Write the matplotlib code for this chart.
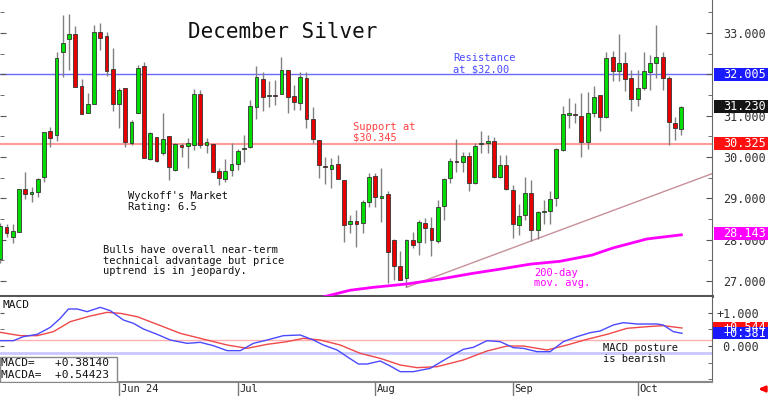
import matplotlib
matplotlib.use("Agg")
import matplotlib.pyplot as plt
import matplotlib.transforms as mtrans
from matplotlib.patches import Rectangle
from matplotlib.ticker import MultipleLocator, FixedLocator, FixedFormatter, FuncFormatter
import numpy as np

# daily OHLC, December silver, mid-May .. Oct 9 2024
opens = [27.53, 28.31, 28.06, 28.19, 29.23, 29.10, 29.15, 29.52, 30.63, 30.53,
         32.54, 32.85, 32.98, 31.72, 31.06, 31.28, 33.02, 32.93, 32.13, 31.28,
         31.67, 30.34, 31.06, 32.20, 29.95, 30.48, 30.10, 30.51, 29.69, 30.29,
         30.27, 30.29, 31.52, 30.29, 30.31, 29.66, 29.47, 29.69, 29.83, 30.19,
         30.24, 31.21, 31.89, 31.48, 31.50, 31.52, 32.10, 31.48, 31.31, 31.91,
         30.92, 30.41, 29.78, 29.71, 29.83, 29.44, 28.38, 28.45, 28.40, 28.91,
         29.54, 29.02, 29.10, 27.99, 27.36, 27.07, 27.99, 27.94, 28.40, 28.28,
         27.97, 28.81, 29.49, 29.89, 29.88, 30.02, 29.37, 30.31, 30.34, 30.39,
         29.52, 29.81, 29.20, 28.35, 28.60, 29.13, 28.23, 28.67, 28.69, 29.01,
         30.17, 31.03, 31.03, 30.99, 30.36, 31.06, 31.50, 30.97, 32.42, 32.08,
         32.27, 31.91, 31.40, 31.67, 32.06, 32.27, 32.42, 31.91, 30.82, 30.68]
highs = [28.40, 28.38, 28.38, 29.23, 29.64, 29.27, 29.49, 30.60, 30.73, 32.54,
         33.44, 33.46, 33.17, 31.89, 31.55, 33.19, 33.24, 33.02, 32.64, 31.67,
         31.67, 30.89, 32.23, 32.30, 30.60, 30.48, 31.06, 30.51, 30.34, 30.34,
         30.46, 31.65, 31.62, 30.46, 30.31, 29.73, 29.95, 30.34, 30.19, 30.53,
         31.38, 32.20, 32.06, 31.84, 31.86, 32.42, 32.10, 31.74, 32.06, 32.06,
         31.21, 30.41, 30.00, 29.98, 30.05, 29.44, 28.60, 28.72, 28.96, 29.61,
         29.61, 29.73, 29.18, 28.02, 27.73, 28.02, 28.19, 28.48, 28.52, 28.55,
         28.96, 29.49, 29.98, 30.44, 30.12, 30.12, 30.34, 30.63, 30.53, 30.48,
         30.05, 30.05, 29.32, 28.86, 29.52, 29.44, 28.69, 28.96, 29.18, 30.22,
         31.23, 31.43, 31.31, 31.55, 31.57, 31.72, 31.50, 32.54, 32.56, 32.98,
         32.54, 32.10, 32.10, 32.54, 32.47, 33.19, 32.54, 31.96, 30.97, 31.23]
lows = [27.45, 28.06, 27.92, 28.19, 28.98, 28.91, 29.03, 29.39, 30.24, 30.39,
        31.94, 32.10, 31.69, 31.04, 31.06, 31.28, 32.59, 31.96, 31.11, 30.70,
        30.24, 30.29, 31.06, 29.98, 29.93, 29.88, 30.05, 29.44, 29.66, 30.00,
        29.73, 30.17, 30.22, 30.10, 29.64, 29.32, 29.39, 29.54, 29.69, 29.88,
        30.22, 30.92, 31.11, 31.21, 31.26, 31.52, 31.06, 31.14, 31.14, 30.70,
        30.34, 29.49, 29.35, 29.25, 29.47, 27.94, 28.16, 27.82, 28.16, 28.79,
        28.79, 28.43, 26.95, 27.02, 27.02, 26.85, 27.80, 27.63, 27.92, 27.60,
        27.92, 28.48, 29.37, 29.64, 29.64, 29.18, 29.35, 30.10, 30.10, 29.49,
        29.49, 29.20, 28.04, 28.11, 28.48, 27.97, 28.02, 28.38, 28.38, 28.81,
        30.14, 30.70, 30.82, 30.00, 30.19, 30.97, 30.63, 30.94, 31.84, 31.84,
        31.60, 31.11, 31.23, 31.62, 31.62, 31.91, 31.62, 30.29, 30.41, 30.53]
closes = [28.33, 28.16, 28.21, 29.23, 29.10, 29.15, 29.47, 30.60, 30.46, 32.40,
          32.76, 32.98, 31.69, 31.04, 31.28, 33.02, 32.88, 32.08, 31.28, 31.62,
          30.36, 30.85, 32.15, 29.98, 30.58, 29.90, 30.44, 29.76, 30.31, 30.24,
          30.34, 31.52, 30.29, 30.36, 29.64, 29.49, 29.66, 29.83, 30.14, 30.22,
          31.23, 31.94, 31.45, 31.50, 31.48, 32.10, 31.45, 31.33, 31.94, 30.92,
          30.44, 29.81, 29.76, 29.81, 29.47, 28.35, 28.45, 28.38, 28.91, 29.52,
          29.03, 29.04, 27.70, 27.36, 27.02, 27.99, 27.87, 28.43, 28.28, 27.99,
          28.79, 29.47, 29.90, 29.87, 30.02, 29.37, 30.27, 30.34, 30.39, 29.52,
          29.81, 29.23, 28.38, 28.57, 29.13, 28.23, 28.67, 28.69, 28.98, 30.19,
          31.04, 31.05, 31.01, 30.36, 31.06, 31.45, 30.97, 32.40, 32.08, 32.27,
          31.89, 31.40, 31.67, 32.08, 32.27, 32.42, 31.91, 30.85, 30.70, 31.21]

month_idx = [19, 38, 60, 82, 102]
month_labels = ["Jun 24", "Jul", "Aug", "Sep", "Oct"]

resistance = 32.005
support = 30.325
last_price = 31.230
ma_last = 28.143

# 200-day moving average, read points (bar index, price)
ma_idx = [51.5, 56, 59.7, 65, 70.4, 75.7, 80, 84.8, 89.6, 94.7, 98, 103.5, 109]
ma_val = [26.61, 26.78, 26.85, 26.93, 27.05, 27.19, 27.29, 27.41, 27.48, 27.63, 27.80, 28.02, 28.12]

# uptrend line anchors
trend_idx = [65, 114.1]
trend_val = [26.85, 29.61]

# MACD (blue) and MACDA signal (red), read points
macd_idx = [0, 2.1, 3.7, 5.9, 8, 9.6, 10.9, 12.3, 13.9, 16, 17.6, 19.7, 21.3, 22.9, 25.1,
            27.2, 29.9, 32, 34.1, 36.3, 38.4, 40.5, 42.7, 45.3, 48, 50.1, 51.7, 53.9, 55.5,
            57.3, 58.7, 60.8, 62.4, 64, 66.1, 68.8, 71.5, 74.1, 75.7, 77.9, 80, 82.1, 83.7,
            85.9, 88, 90.1, 92.3, 94.4, 96, 98.1, 99.7, 101.9, 105.1, 106.1, 107.7, 109.1]
macd_val = [0.16, 0.16, 0.28, 0.35, 0.56, 0.83, 1.11, 1.11, 1.03, 1.16, 1.06, 0.78, 0.68, 0.51, 0.35,
            0.18, 0.08, 0.11, 0.01, -0.14, -0.14, 0.08, 0.18, 0.31, 0.33, 0.18, 0.03, -0.12, -0.32,
            -0.54, -0.54, -0.45, -0.60, -0.77, -0.77, -0.67, -0.37, -0.10, -0.04, 0.16, 0.13, -0.05, -0.07,
            -0.17, -0.17, 0.13, 0.28, 0.40, 0.45, 0.63, 0.70, 0.66, 0.66, 0.63, 0.43, 0.38]
sig_idx = [0, 3.2, 5.9, 8.5, 11.2, 14.4, 17.1, 19.2, 21.9, 25.1, 28.8, 32, 36.3, 39.5, 42.7,
           45.9, 48.5, 51.2, 54.4, 57.6, 60.8, 64, 66.7, 69.9, 74.1, 77.9, 81.1, 83.7, 87.5,
           90.7, 93.9, 97.1, 100.3, 103.5, 106.1, 109.1]
sig_val = [0.41, 0.31, 0.31, 0.43, 0.73, 0.90, 1.01, 0.98, 0.88, 0.65, 0.38, 0.23, 0.03, -0.07, 0.05,
           0.13, 0.23, 0.18, 0.03, -0.22, -0.37, -0.57, -0.65, -0.62, -0.42, -0.15, 0.00, 0.00, -0.12,
           0.03, 0.20, 0.35, 0.53, 0.58, 0.61, 0.54]
macd_now = 0.381
sig_now = 0.544

plt.rcParams['font.family'] = ['DejaVu Sans Mono', 'DejaVu Sans']

W, H = 768, 396
fig = plt.figure(figsize=(W / 100, H / 100), dpi=100)
ax = fig.add_axes([0, 1 - 296 / H, 712 / W, 296 / H])
am = fig.add_axes([0, 1 - 382 / H, 712 / W, 85 / H])

GREEN = "#00dd00"
RED = "#e80000"
x = np.arange(len(opens))
o = np.array(opens)
c = np.array(closes)
up = c >= o

# candles
ax.vlines(x, lows, highs, color="#808080", lw=1, zorder=2)
body_lo = np.minimum(o, c)
body_h = np.maximum(np.abs(c - o), 0.03)
ax.bar(x, body_h, bottom=body_lo, width=0.62, color=np.where(up, GREEN, RED),
       edgecolor="#333333", linewidth=0.6, zorder=3)

ax.axhline(resistance, color="#6a6aff", lw=1, zorder=1)
ax.axhline(support, color="#ff9a9a", lw=1.5, zorder=1)
ax.plot(trend_idx, trend_val, color="#c8909a", lw=1, zorder=1)
ax.plot(ma_idx, ma_val, color="#ff00ff", lw=2, zorder=4)

ax.set_xlim(-0.05, 113.9)
ax.set_ylim(26.64, 33.8)
ax.set_xticks([])
ax.yaxis.set_major_locator(MultipleLocator(1))
ax.yaxis.set_minor_locator(MultipleLocator(0.5))
# the 32.000 label sits fully under the resistance box
ax.yaxis.set_major_formatter(FuncFormatter(lambda v, p: "" if abs(v - 32) < 0.01 else "%.3f" % v))
ax.tick_params(axis="y", which="both", direction="in", left=True, right=True,
               labelleft=False, labelright=True, color="#555555", pad=8,
               labelsize=8.5, labelcolor="#333333")
ax.tick_params(axis="y", which="major", length=4)
ax.tick_params(axis="y", which="minor", length=3)
for s in ["top", "left"]:
    ax.spines[s].set_visible(False)
ax.spines["bottom"].set_color("#555555")
ax.spines["bottom"].set_linewidth(2.2)
ax.spines["right"].set_color("#666666")

# price boxes on right axis
bt = mtrans.blended_transform_factory(ax.transAxes, ax.transData)
bh = 13 / 41.33
for val, col in [(resistance, "#1a1aff"), (last_price, "#141414"),
                 (support, "#ff1010"), (ma_last, "#ff00ff")]:
    ax.add_patch(Rectangle((1.003, val - bh / 2), 0.08, bh, transform=bt,
                           facecolor=col, edgecolor="none", clip_on=False, zorder=5))
    ax.text(766 / 712, val, "%.3f" % val, transform=bt, ha="right", va="center",
            color="white", fontsize=8.5, zorder=6, clip_on=False)


def lines(a, xi, ys, texts, **kw):
    for yy, t in zip(ys, texts):
        a.text(xi, yy, t, ha="left", va="center", **kw)


ax.text(30.1, 33.02, "December Silver", fontsize=15, ha="left", va="center", color="#111111")
lines(ax, 72.5, [32.40, 32.13], ["Resistance", "at $32.00"], fontsize=7.5, color="#4a4aff")
lines(ax, 56.4, [30.73, 30.48], ["Support at", "$30.345"], fontsize=7.5, color="#ff4040")
lines(ax, 20.5, [29.06, 28.79], ["Wyckoff's Market", "Rating: 6.5"], fontsize=7.5, color="#111111")
lines(ax, 16.5, [27.75, 27.49, 27.25],
      ["Bulls have overall near-term", "technical advantage but price", "uptrend is in jeopardy."],
      fontsize=7.5, color="#111111")
lines(ax, 85.4, [27.20, 26.95], ["200-day", "mov. avg."], fontsize=7.5, color="#ff00ff")

# MACD panel
am.axhline(0.18, color="#ffb0b0", lw=1, zorder=1)
am.axhline(-0.22, color="#c8c8ff", lw=2, zorder=1)
am.plot(sig_idx, sig_val, color="#f04848", lw=1, zorder=3)
am.plot(macd_idx, macd_val, color="#4a4aff", lw=1, zorder=3)
am.set_xlim(-0.05, 113.9)
am.set_ylim(-1.08, 1.47)
am.yaxis.set_major_locator(FixedLocator([0, 1]))
am.yaxis.set_major_formatter(FixedFormatter([" 0.000", "+1.000"]))
am.yaxis.set_minor_locator(MultipleLocator(0.5))
am.tick_params(axis="y", which="both", direction="in", left=True, right=True,
               labelleft=False, labelright=True, color="#555555", pad=3,
               labelsize=8.5, labelcolor="#333333", length=3)
am.set_xticks(month_idx)
am.tick_params(axis="x", direction="out", length=10, width=1, color="#777777",
               labelbottom=False)
for s in ["top", "left"]:
    am.spines[s].set_visible(False)
am.spines["bottom"].set_color("#888888")
am.spines["bottom"].set_linewidth(1.5)
am.spines["right"].set_color("#666666")

xt = mtrans.blended_transform_factory(am.transData, am.transAxes)
for mi, ml in zip(month_idx, month_labels):
    am.text(mi + 0.3, -0.085, ml, transform=xt, ha="left", va="center",
            fontsize=7.5, color="#222222")

mt = mtrans.blended_transform_factory(am.transAxes, am.transData)
mh = 12 / 33.3
for val, col in [(sig_now, "#ff1010"), (macd_now, "#1a1aff")]:
    am.add_patch(Rectangle((1.002, val - mh / 2), 0.08, mh, transform=mt,
                           facecolor=col, edgecolor="none", clip_on=False, zorder=5))
    am.text(766 / 712, val, "%+.3f" % val, transform=mt, ha="right", va="center",
            color="white", fontsize=8.5, zorder=6, clip_on=False)

am.text(0.003, 0.906, "MACD", transform=am.transAxes, ha="left", va="center",
        fontsize=8, color="#111111")
am.add_patch(Rectangle((0, 0), 117 / 712, 25 / 85, transform=am.transAxes,
                       facecolor="white", edgecolor="#888888", lw=1, zorder=6))
am.text(0.002, 19.3 / 85, "MACD=   %+.5f" % 0.38140, transform=am.transAxes,
        ha="left", va="center", fontsize=8, color="#111111", zorder=7)
am.text(0.002, 7 / 85, "MACDA=  %+.5f" % 0.54423, transform=am.transAxes,
        ha="left", va="center", fontsize=8, color="#111111", zorder=7)
lines(am, 96.5, [-0.06, -0.39], ["MACD posture", "is bearish"], fontsize=7.5, color="#111111")

am.annotate("", xy=(756 / W, 1 - 389 / H), xytext=(767 / W, 1 - 389 / H),
            xycoords="figure fraction", textcoords="figure fraction",
            arrowprops=dict(arrowstyle="-|>", color="red", lw=2, mutation_scale=8))

fig.savefig("out.png", dpi=100)
